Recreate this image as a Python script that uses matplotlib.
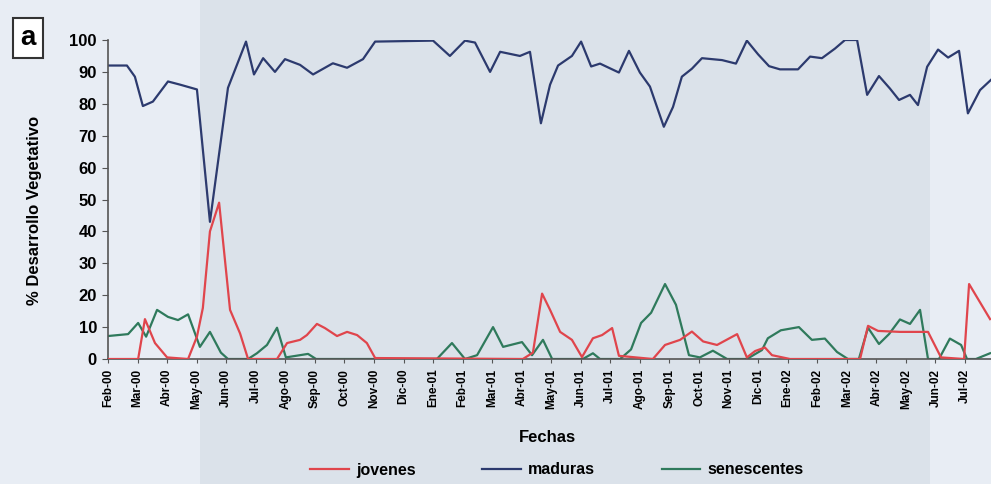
import matplotlib
matplotlib.use("Agg")
import matplotlib.pyplot as plt
from matplotlib.patches import Rectangle

plt.rcParams["font.family"] = ["Liberation Sans", "DejaVu Sans"]
plt.rcParams["font.weight"] = "bold"

# x = months elapsed since Feb-00, y = % of plants
months = ["Feb-00", "Mar-00", "Abr-00", "May-00", "Jun-00", "Jul-00", "Ago-00",
          "Sep-00", "Oct-00", "Nov-00", "Dic-00", "Ene-01", "Feb-01", "Mar-01",
          "Abr-01", "May-01", "Jun-01", "Jul-01", "Ago-01", "Sep-01", "Oct-01",
          "Nov-01", "Dic-01", "Ene-02", "Feb-02", "Mar-02", "Abr-02", "May-02",
          "Jun-02", "Jul-02"]

jov_t = [0, 1.02, 1.25, 1.59, 2.0, 2.71, 3.01, 3.21, 3.45, 3.76, 4.13, 4.47,
         4.74, 5.72, 6.06, 6.50, 6.73, 7.07, 7.34, 7.75, 8.09, 8.43, 8.76,
         9.04, 14.04, 14.38, 14.69, 14.96, 15.30, 15.70, 16.04, 16.41, 16.72,
         17.06, 17.29, 18.44, 18.85, 19.36, 19.76, 20.14, 20.61, 21.29, 21.62,
         21.90, 22.23, 22.47, 23.08, 25.45, 25.72, 26.06, 26.80, 27.75, 28.19,
         28.97, 29.14, 29.85]
jov_v = [0, 0, 12.5, 5, 0.5, 0, 7, 16, 40, 49, 15.4, 8,
         0, 0, 5, 6, 7.5, 11, 9.7, 7.2, 8.5, 7.5, 5,
         0.3, 0, 2, 20.5, 15.4, 8.5, 6, 0.6, 6.5, 7.5,
         9.7, 1, 0, 4.4, 6, 8.6, 5.5, 4.4, 7.8, 0.5,
         2.5, 3.6, 1.2, 0, 0, 10.4, 8.8, 8.5, 8.5, 0.5,
         0, 23.5, 12.5]

mad_t = [0, 0.64, 0.91, 1.18, 1.52, 2.03, 2.44, 3.01, 3.45, 4.06, 4.67, 4.94,
         5.25, 5.65, 5.99, 6.50, 6.94, 7.61, 8.09, 8.63, 9.04, 11.0, 11.57,
         12.08, 12.42, 12.93, 13.27, 13.94, 14.28, 14.65, 14.96, 15.23, 15.70,
         16.01, 16.35, 16.65, 17.29, 17.63, 18.0, 18.34, 18.81, 19.12, 19.42,
         19.76, 20.10, 20.78, 21.25, 21.62, 22.0, 22.37, 22.74, 23.35, 23.76,
         24.16, 24.6, 24.94, 25.35, 25.69, 26.09, 26.46, 26.77, 27.14, 27.41,
         27.72, 28.09, 28.43, 28.8, 29.1, 29.51, 29.88]
mad_v = [92, 92, 88.5, 79.3, 80.7, 87, 86, 84.5, 43, 85, 99.5, 89.2,
         94.3, 90, 94, 92.2, 89.2, 92.7, 91.3, 94, 99.5, 99.8, 95,
         99.8, 99.2, 90, 96.3, 95, 96.3, 73.9, 86, 92, 95,
         99.5, 91.7, 92.6, 89.8, 96.6, 89.8, 85.4, 72.8, 79, 88.5,
         91, 94.3, 93.7, 92.6, 99.8, 95.5, 91.8, 90.8, 90.8, 94.8,
         94.3, 97.3, 100, 100, 82.8, 88.7, 84.8, 81.2, 82.8, 79.6,
         91.6, 97, 94.5, 96.6, 77, 84.3, 87.5]

sen_t = [0, 0.68, 1.02, 1.29, 1.66, 2.03, 2.37, 2.71, 3.11, 3.45, 3.82, 4.06,
         4.74, 5.04, 5.38, 5.72, 6.02, 6.77, 7.04, 11.13, 11.64, 12.08, 12.49,
         13.03, 13.37, 14.01, 14.35, 14.72, 15.03, 16.07, 16.41, 16.65, 17.33,
         17.70, 18.04, 18.38, 18.85, 19.22, 19.66, 20.03, 20.47, 20.95, 21.62,
         22.13, 22.33, 22.77, 23.38, 23.82, 24.26, 24.67, 25.04, 25.41, 25.72,
         26.09, 26.43, 26.80, 27.14, 27.48, 27.75, 28.12, 28.49, 28.87, 29.07,
         29.37, 29.85]
sen_v = [7.2, 7.8, 11.3, 7, 15.4, 13.2, 12.2, 14, 3.8, 8.5, 2, 0,
         0, 1.8, 4.4, 9.8, 0.5, 1.6, 0, 0, 5, 0, 1.2,
         10, 3.8, 5.3, 1.2, 6, 0, 0, 1.8, 0, 0,
         3, 11.3, 14.5, 23.5, 17, 1.2, 0.5, 2.6, 0, 0,
         2.8, 6.5, 9, 10, 6, 6.4, 2.2, 0, 0, 9.8,
         4.7, 7.8, 12.4, 11, 15.4, 0, 0, 6.4, 4.4, 0,
         0, 1.8]

W, H = 991, 484
fig = plt.figure(figsize=(W / 100, H / 100), dpi=100, facecolor="#e8edf4")

# scan shading: darker band across the middle of the page
fig.patches.append(Rectangle((200 / W, 0), 730 / W, 1, transform=fig.transFigure,
                             facecolor="#dbe2ea", edgecolor="none", zorder=-1))

ax = fig.add_axes([108 / W, 1 - 359 / H, (W - 108) / W, (359 - 40) / H])
ax.patch.set_alpha(0)

ax.plot(jov_t, jov_v, color="#e0454c", lw=1.6, label="jovenes", zorder=3)
ax.plot(mad_t, mad_v, color="#2c3a6e", lw=1.6, label="maduras", zorder=2)
ax.plot(sen_t, sen_v, color="#2f7a5c", lw=1.6, label="senescentes", zorder=2)

ax.set_xlim(0, (W - 108) / 29.55)
ax.set_ylim(0, 100)
ax.set_yticks(range(0, 101, 10))
ax.set_xticks(range(len(months)))
ax.set_xticklabels(months, rotation=90, fontsize=8.5, fontweight="bold")
ax.tick_params(axis="y", labelsize=12, length=4, color="#555555", pad=4)
ax.tick_params(axis="x", length=3, color="#555555", pad=4)
for lab in ax.get_yticklabels():
    lab.set_fontweight("bold")
for s in ("top", "right"):
    ax.spines[s].set_visible(False)
for s in ("left", "bottom"):
    ax.spines[s].set_color("#555555")
    ax.spines[s].set_linewidth(1.2)

fig.text(35 / W, 1 - 210 / H, "% Desarrollo Vegetativo", rotation=90,
         ha="center", va="center", fontsize=12, fontweight="bold")
fig.text(547 / W, 1 - 438 / H, "Fechas", ha="center", va="center",
         fontsize=12, fontweight="bold")
fig.text(28 / W, 1 - 38 / H, "a", ha="center", va="center", fontsize=20,
         fontweight="bold",
         bbox=dict(boxstyle="square,pad=0.25", facecolor="white",
                   edgecolor="#333333", linewidth=1.5))

fig.legend(loc="center", bbox_to_anchor=(557 / W, 1 - 470 / H), ncol=3,
           frameon=False, handlelength=2.4, columnspacing=4.2,
           handletextpad=0.45, prop={"weight": "bold", "size": 11.5})

fig.savefig("out.png", dpi=100, facecolor=fig.get_facecolor())
